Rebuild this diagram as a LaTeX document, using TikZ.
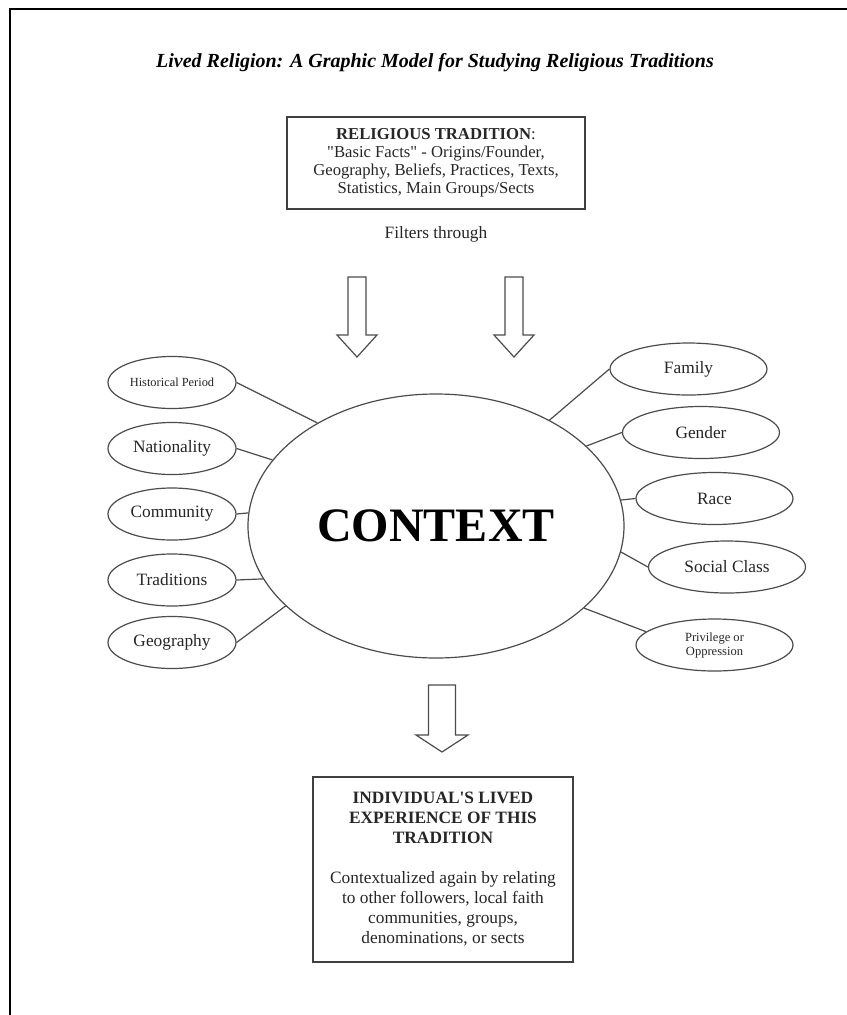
\documentclass[tikz,border=0pt]{standalone}
\usepackage{fontspec}
\setmainfont{Liberation Serif}
\usetikzlibrary{shapes.geometric}
\newcommand{\fs}[2]{\fontsize{#1}{#2}\selectfont}
% block arrow pointing down: centre x, top y, shaft bottom y, tip y, half shaft width, half head width
\newcommand{\blockarrow}[6]{%
  \draw[barrow] (#1-#5,#2) -- (#1+#5,#2) -- (#1+#5,#3) -- (#1+#6,#3) -- (#1,#4) -- (#1-#6,#3) -- (#1-#5,#3) -- cycle;}
\tikzset{
  frameline/.style={draw=black, line width=1.5pt},
  box/.style={draw=black!75, line width=0.9pt, align=center, inner sep=0pt, text=black!85},
  oval/.style={ellipse, draw=black!70, line width=0.9pt, inner sep=0pt, minimum height=39pt,
               font=\fs{13}{15}, text=black!85},
  lefto/.style={oval, minimum width=96pt},
  righto/.style={oval, minimum width=117.75pt},
  link/.style={draw=black!70, line width=0.9pt},
  barrow/.style={draw=black!70, line width=0.9pt, fill=white},
  plain/.style={anchor=base, inner sep=0pt}
}
\begin{document}
\begin{tikzpicture}[x=0.75pt,y=-0.75pt]
\useasboundingbox (0,0) rectangle (847,1015);
\fill[white] (0,0) rectangle (847,1015);
\draw[frameline] (10,1015) -- (10,9) -- (847,9);

\node[plain, font=\fs{15}{18}\bfseries\itshape] (title) at (435,67)
  {Lived Religion: A Graphic Model for Studying Religious Traditions};

\node[box, font=\fs{12.5}{13.5}, minimum width=223.5pt, minimum height=69pt] (rt) at (436,163)
  {\textbf{RELIGIOUS TRADITION}:\\ \textquotedbl Basic Facts\textquotedbl{} - Origins/Founder,\\ Geography, Beliefs, Practices, Texts,\\ Statistics, Main Groups/Sects};

\node[plain, font=\fs{13}{15}, text=black!85] (ft) at (436,238) {Filters through};

\blockarrow{357}{277}{335}{357}{9}{20}
\blockarrow{514}{277}{335}{357}{9}{20}

\node[ellipse, draw=black!70, line width=0.9pt, inner sep=0pt, minimum width=282pt, minimum height=198pt,
      font=\fs{36}{40}\bfseries] (ctx) at (436,526) {CONTEXT};

\node[lefto, font=\fs{9.3}{11}] (hist) at (172,382.5) {Historical Period};
\node[lefto] (nat) at (172,448.5) {Nationality};
\node[lefto] (com) at (172,514) {Community};
\node[lefto] (trad) at (172,580) {Traditions};
\node[lefto] (geo) at (172,642.5) {Geography};

\node[righto] (fam) at (688.5,369) {Family};
\node[righto] (gen) at (701,432.5) {Gender};
\node[righto] (race) at (714.5,498.5) {Race};
\node[righto] (soc) at (727,567) {Social Class};
\node[righto, font=\fs{9.4}{10.5}, align=center] (priv) at (714.5,645) {Privilege or\\Oppression};

\draw[link] (hist.east) -- (ctx.139.8);
\draw[link] (nat.east) -- (ctx.158.6);
\draw[link] (com.east) -- (ctx.176);
\draw[link] (trad.east) -- (ctx.197.3);
\draw[link] (geo.east) -- (ctx.208.2);

\draw[link] (fam.west) -- (ctx.43.7);
\draw[link] (gen.west) -- (ctx.28.2);
\draw[link] (race.west) -- (ctx.8.5);
\draw[link] (soc.west) -- (ctx.352.7);
\draw[link] (priv.169) -- (ctx.331.8);

\blockarrow{442}{685}{735}{752}{13.5}{26}

\node[box, font=\fs{13}{15}, minimum width=195pt, minimum height=138.75pt] (ind) at (443,869.5)
  {\textbf{INDIVIDUAL\textquotesingle S LIVED}\\ \textbf{EXPERIENCE OF THIS}\\ \textbf{TRADITION}\\[15pt]
   Contextualized again by relating\\ to other followers, local faith\\ communities, groups,\\ denominations, or sects};
\end{tikzpicture}
\end{document}
